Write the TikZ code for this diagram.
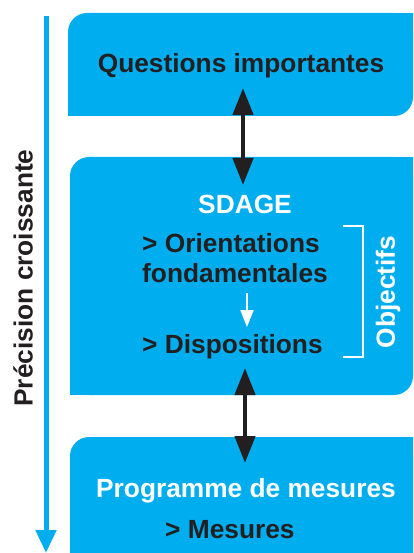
\documentclass[tikz,border=0pt]{standalone}
\usepackage{fontspec}
\setmainfont{Liberation Sans}
\usetikzlibrary{arrows.meta}
\definecolor{cyanbox}{HTML}{00AEEF}
\definecolor{inkblack}{HTML}{231F20}
\begin{document}
\begin{tikzpicture}[x=1pt,y=-1pt,
  txt/.style={font=\fontsize{26.3}{30}\selectfont\bfseries, inner sep=0pt},
  blk/.style={txt, text=inkblack},
  wht/.style={txt, text=white},
  boxfill/.style={fill=cyanbox},
  dblarrow/.style={draw=inkblack, line width=4.5pt, {Triangle[width=20pt,length=27pt]}-{Triangle[width=20pt,length=27pt]}},
]
\useasboundingbox (0,0) rectangle (413,553);
% box 1
\fill[boxfill, rounded corners=19pt] (68,13) rectangle (413,116);
\fill[boxfill] (68,60) rectangle (120,116);
\fill[boxfill] (360,13) rectangle (413,60);
% box 2
\fill[boxfill, rounded corners=19pt] (70,157) rectangle (413,395);
\fill[boxfill] (70,300) rectangle (120,395);
\fill[boxfill] (360,157) rectangle (413,220);
% box 3
\fill[boxfill, rounded corners=19pt] (70,437) rectangle (413,600);
\fill[boxfill] (360,437) rectangle (413,553);
\fill[boxfill] (70,500) rectangle (413,553);

% left arrow
\coordinate (lt) at (46,16);
\coordinate (lb) at (46,553);
\draw[cyanbox, line width=5pt, -{Triangle[width=20pt,length=23pt]}] (lt) -- (lb);
\node[blk, rotate=90] (prec) at (23,278) {Précision croissante};

% texts
\node[blk, anchor=base] (qi) at (241,73) {Questions importantes};
\node[wht, anchor=base] (sdage) at (245,213) {SDAGE};
\node[blk, anchor=base west] (ori) at (142,252) {> Orientations};
\node[blk, anchor=base west] (fond) at (142,282) {fondamentales};
\node[blk, anchor=base west] (disp) at (142,353) {> Dispositions};
\node[wht, anchor=base] (prog) at (246,497) {Programme de mesures};
\node[blk, anchor=base west] (mes) at (165,538) {> Mesures};
\node[wht, rotate=90] (obj) at (388,292) {Objectifs};

% bracket
\coordinate (br1) at (343,226);
\coordinate (br2) at (363,226);
\coordinate (br3) at (363,357);
\coordinate (br4) at (343,357);
\draw[white, line width=1.6pt] (br1) -- (br2) -- (br3) -- (br4);

% small white arrow
\coordinate (wa1) at (247,293);
\coordinate (wa2) at (247,327);
\draw[white, line width=1.8pt, -{Triangle[width=13pt,length=17pt]}] (wa1) -- (wa2);

% black double arrows
\coordinate (a1) at (243,88);
\coordinate (a2) at (243,185);
\draw[dblarrow] (a1) -- (a2);
\coordinate (b1) at (245,368);
\coordinate (b2) at (245,463);
\draw[dblarrow] (b1) -- (b2);
\end{tikzpicture}
\end{document}
